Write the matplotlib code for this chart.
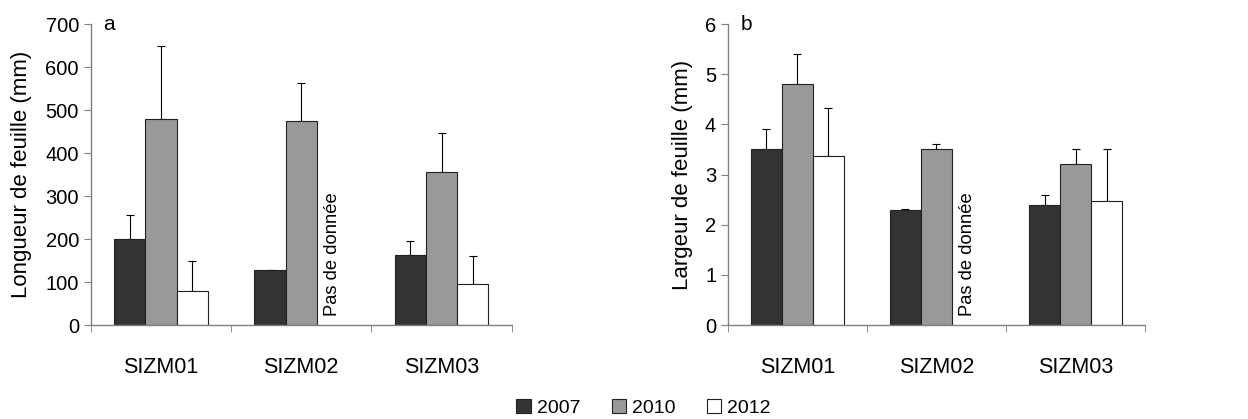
import numpy as np
import matplotlib
matplotlib.use('Agg')
import matplotlib.pyplot as plt
from matplotlib.patches import Patch

plt.rcParams['font.family'] = ['Liberation Sans', 'DejaVu Sans']

sites = ['SIZM01', 'SIZM02', 'SIZM03']
years = ['2007', '2010', '2012']
colors = ['#333333', '#999999', '#ffffff']

# a : longueur de feuille (mm)
long_2007 = [200, 127, 162]
long_2010 = [480, 475, 355]
long_2012 = [80, np.nan, 95]
long_err_2007 = [57, 1, 33]
long_err_2010 = [170, 87, 92]
long_err_2012 = [68, np.nan, 65]

# b : largeur de feuille (mm)
larg_2007 = [3.5, 2.3, 2.4]
larg_2010 = [4.8, 3.5, 3.2]
larg_2012 = [3.37, np.nan, 2.47]
larg_err_2007 = [0.4, 0.01, 0.2]
larg_err_2010 = [0.6, 0.1, 0.3]
larg_err_2012 = [0.96, np.nan, 1.03]

fig = plt.figure(figsize=(12.48, 4.19), dpi=100)
ax1 = fig.add_axes([0.0727, 0.2243, 0.3373, 0.7184])
ax2 = fig.add_axes([0.5833, 0.2243, 0.3342, 0.7184])

w = 0.223
x = np.arange(len(sites))


def draw(ax, vals, errs, ymax, ystep, ylabel, letter):
    for i, (v, e) in enumerate(zip(vals, errs)):
        pos = x + (i - 1) * w
        v = np.array(v, dtype=float)
        e = np.array(e, dtype=float)
        ok = ~np.isnan(v)
        ax.bar(pos[ok], v[ok], width=w, color=colors[i], edgecolor='#222222',
               linewidth=0.8, zorder=2)
        ax.errorbar(pos[ok], v[ok], yerr=[np.zeros(ok.sum()), e[ok]], fmt='none',
                    ecolor='black', elinewidth=0.8, capsize=3, capthick=0.8, zorder=1)
    ax.set_xlim(-0.5, 2.5)
    ax.set_ylim(0, ymax)
    ax.set_yticks(np.arange(0, ymax + ystep / 2, ystep))
    ax.set_xticks(x)
    ax.set_xticklabels(sites)
    ax.set_xticks([-0.5, 0.5, 1.5, 2.5], minor=True)
    ax.tick_params(axis='x', which='major', length=0, pad=23, labelsize=15.5)
    ax.tick_params(axis='x', which='minor', length=5, direction='out', color='#808080')
    ax.tick_params(axis='y', length=5, direction='out', color='#808080', labelsize=14.5)
    for s in ['top', 'right']:
        ax.spines[s].set_visible(False)
    for s in ['left', 'bottom']:
        ax.spines[s].set_color('#808080')
        ax.spines[s].set_linewidth(1.0)
    ax.set_ylabel(ylabel, fontsize=16)
    ax.text(0.03, 1.0, letter, transform=ax.transAxes, fontsize=15, va='center')
    ax.text(1 + w, 0.03 * ymax, 'Pas de donnée', rotation=90, ha='center',
            va='bottom', fontsize=13.2)


draw(ax1, [long_2007, long_2010, long_2012], [long_err_2007, long_err_2010, long_err_2012],
     700, 100, 'Longueur de feuille (mm)', 'a')
draw(ax2, [larg_2007, larg_2010, larg_2012], [larg_err_2007, larg_err_2010, larg_err_2012],
     6, 1, 'Largeur de feuille (mm)', 'b')
ax1.yaxis.set_label_coords(-0.139, 0.5)
ax2.yaxis.set_label_coords(-0.084, 0.5)

handles = [Patch(facecolor=c, edgecolor='#222222', linewidth=0.8) for c in colors]
fig.legend(handles, years, loc='center', bbox_to_anchor=(0.5156, 0.026), ncol=3,
           frameon=False, fontsize=14, handlelength=0.75, handleheight=0.75,
           handletextpad=0.3, columnspacing=1.6)

fig.savefig('out.png', dpi=100)
